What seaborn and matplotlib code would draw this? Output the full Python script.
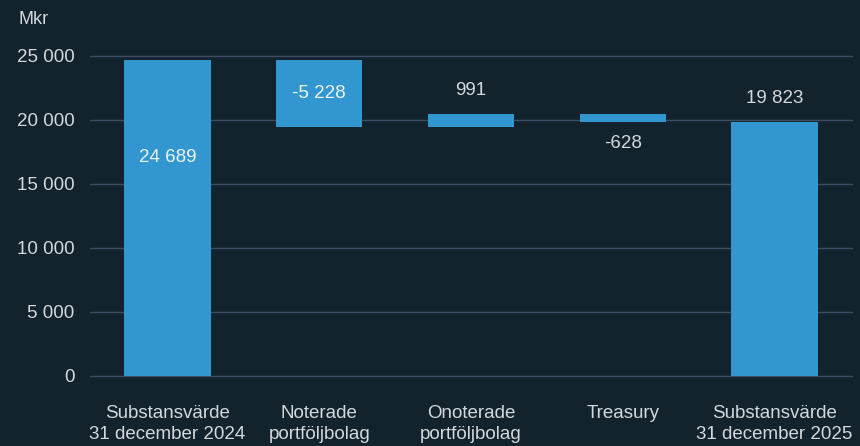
import matplotlib
matplotlib.use("Agg")
import matplotlib.pyplot as plt
import seaborn as sns
import pandas as pd
import numpy as np

categories = ["Substansvärde\n31 december 2024", "Noterade\nportföljbolag",
              "Onoterade\nportföljbolag", "Treasury", "Substansvärde\n31 december 2025"]
changes = [24689, -5228, 991, -628, 19823]
is_total = [True, False, False, False, True]
value_labels = ["24 689", "-5 228", "991", "-628", "19 823"]
yticks = [0, 5000, 10000, 15000, 20000, 25000]
ytick_labels = ["0", "5 000", "10 000", "15 000", "20 000", "25 000"]

# waterfall bottoms
bottoms = []
running = 0
for c, t in zip(changes, is_total):
    if t:
        bottoms.append(0)
        running = c
    else:
        bottoms.append(running)
        running += c

df = pd.DataFrame({"cat": categories, "h": changes, "b": bottoms})

BG = "#13232d"
BAR = "#3297d0"
GRID = "#3b4e61"
TXT = "#d3d8dc"

sns.set_theme(style="dark")
plt.rcParams["font.family"] = ["Liberation Sans", "DejaVu Sans"]

fig = plt.figure(figsize=(8.6, 4.46), dpi=100, facecolor=BG)
ax = fig.add_axes([90/860, 1-376/446, 762/860, 320/446])
ax.set_facecolor(BG)

sns.barplot(data=df, x="cat", y="h", color=BAR, width=0.57, ax=ax,
            saturation=1, edgecolor="none", linewidth=0)
# set bottoms on the patches created by seaborn
for p, b, h in zip(ax.patches, bottoms, changes):
    p.set_y(b)
    p.set_height(h)
    p.set_zorder(3)

ax.set_ylim(0, 25000)
ax.set_xlim(-0.51, 4.51)
ax.set_yticks(yticks)
ax.set_yticklabels(ytick_labels)
ax.yaxis.grid(True, color=GRID, linewidth=1.0, zorder=0)
ax.xaxis.grid(False)
ax.set_axisbelow(True)
for gl in ax.get_ygridlines():
    gl.set_clip_on(False)
for s in ax.spines.values():
    s.set_visible(False)
ax.tick_params(axis="y", length=0, pad=11, labelsize=13.5, labelcolor=TXT)
ax.tick_params(axis="x", length=0, pad=21, labelsize=13.5, labelcolor=TXT)
for t in ax.get_xticklabels():
    t.set_linespacing(1.3)
ax.set_xlabel("")
ax.set_ylabel("")

fig.text(19/860, 1-20/446, "Mkr", color=TXT, fontsize=13, va="center", ha="left")

fs = 13.5
for i, (h, b, lab) in enumerate(zip(changes, bottoms, value_labels)):
    top = max(b, b + h)
    bot = min(b, b + h)
    if i == 0:
        ax.annotate(lab, (i, top), xytext=(0, -70), textcoords="offset points",
                    ha="center", va="center", color="#eef3f6", fontsize=fs, zorder=5)
    elif i == 1:
        ax.annotate(lab, (i, (top + bot) / 2), ha="center", va="center",
                    color="#eef3f6", fontsize=fs, zorder=5)
    elif h >= 0:
        ax.annotate(lab, (i, top), xytext=(0, 11), textcoords="offset points",
                    ha="center", va="bottom", color=TXT, fontsize=fs, zorder=5)
    else:
        ax.annotate(lab, (i, bot), xytext=(0, -9), textcoords="offset points",
                    ha="center", va="top", color=TXT, fontsize=fs, zorder=5)

fig.savefig("out.png", dpi=100, facecolor=BG)
